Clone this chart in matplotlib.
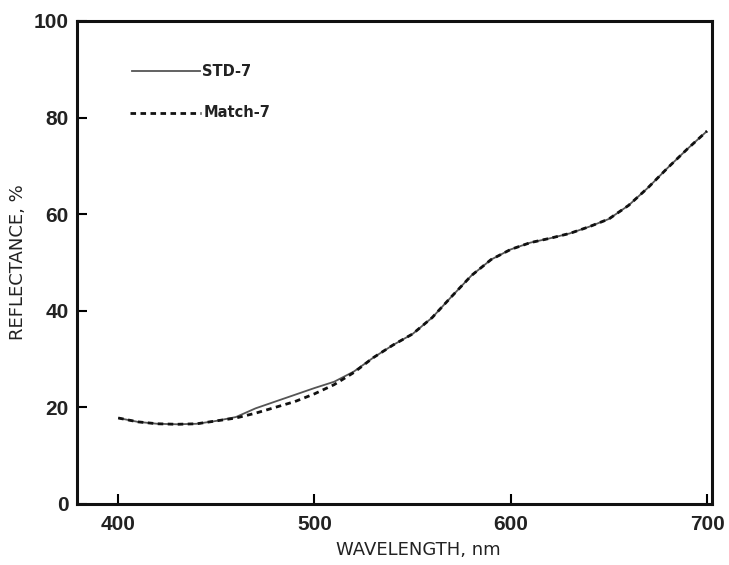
import matplotlib.pyplot as plt
import numpy as np

# wavelength (nm) and reflectance (%)
wavelength = [400, 410, 420, 430, 440, 450, 460, 470, 480, 490, 500, 510, 520, 530, 540,
              550, 560, 570, 580, 590, 600, 610, 620, 630, 640, 650, 660, 670, 680, 690, 700]
std_7 = [17.8, 17.0, 16.6, 16.5, 16.6, 17.2, 18.0, 19.8, 21.2, 22.6, 24.0, 25.3, 27.4, 30.3, 32.9,
         35.2, 38.6, 43.0, 47.3, 50.6, 52.7, 54.1, 55.0, 56.0, 57.4, 59.0, 61.8, 65.5, 69.6, 73.5, 77.2]
match_7 = [17.8, 17.0, 16.6, 16.5, 16.6, 17.2, 17.8, 18.8, 20.0, 21.2, 22.8, 24.7, 27.2, 30.3, 32.9,
           35.2, 38.6, 43.0, 47.3, 50.6, 52.7, 54.1, 55.0, 56.0, 57.4, 59.0, 61.8, 65.5, 69.6, 73.5, 77.2]

x_ticks = [400, 500, 600, 700]
y_ticks = [0, 20, 40, 60, 80, 100]

fig = plt.figure(figsize=(7.29, 5.65), dpi=100)
ax = fig.add_axes([0.1056, 0.108, 0.871, 0.855])

ax.plot(wavelength, std_7, color='#555555', lw=1.3, solid_capstyle='butt')
ax.plot(wavelength, match_7, color='#111111', lw=2.0, dashes=(2.0, 1.6))

ax.set_xlim(379, 702.5)
ax.set_ylim(0, 100)
ax.set_xticks(x_ticks)
ax.set_yticks(y_ticks)
ax.tick_params(direction='in', length=7, width=1.5, labelsize=15, pad=6)
for lab in ax.get_xticklabels() + ax.get_yticklabels():
    lab.set_family('Liberation Sans')
    lab.set_fontweight('bold')
    lab.set_color('#222222')
ax.tick_params(axis='x', pad=8)

for s in ax.spines.values():
    s.set_linewidth(2.2)
    s.set_color('#111111')

ax.set_xlabel('WAVELENGTH, nm', fontsize=13, color='#222222')
ax.set_ylabel('REFLECTANCE, %', fontsize=13, color='#222222')
ax.xaxis.set_label_coords(0.537, -0.077)
ax.yaxis.set_label_coords(-0.078, 0.5)

# hand-drawn style legend
ax.plot([0.0866, 0.194], [0.896, 0.896], transform=ax.transAxes, color='#555555', lw=1.3)
ax.text(0.197, 0.896, 'STD-7', transform=ax.transAxes, fontsize=10.5, fontweight='bold',
        va='center', ha='left', color='#222222')
ax.plot([0.083, 0.196], [0.81, 0.81], transform=ax.transAxes, color='#111111', lw=2.0,
        dashes=(2.0, 1.6))
ax.text(0.199, 0.81, 'Match-7', transform=ax.transAxes, fontsize=10.5, fontweight='bold',
        va='center', ha='left', color='#222222')

fig.savefig('out.png', dpi=100)
